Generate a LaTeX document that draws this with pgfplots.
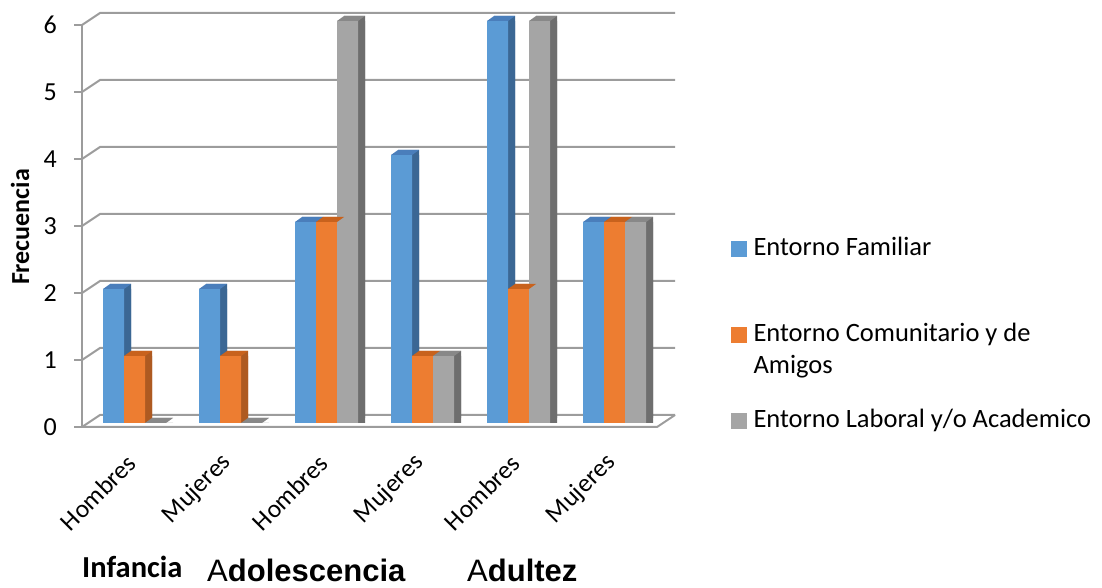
\documentclass[border=0pt]{standalone}
\usepackage{fontspec}
\setmainfont{Carlito}
\newfontfamily\arialf{Liberation Sans}
\usepackage{pgfplots}
\usepackage{pgfplotstable}
\pgfplotsset{compat=1.18}
\definecolor{bF}{HTML}{5B9BD5}
\definecolor{bT}{HTML}{4A7EBB}
\definecolor{bS}{HTML}{3B6794}
\definecolor{oF}{HTML}{ED7D31}
\definecolor{oT}{HTML}{C8621D}
\definecolor{oS}{HTML}{AE5A21}
\definecolor{gF}{HTML}{A5A5A5}
\definecolor{gT}{HTML}{888888}
\definecolor{gS}{HTML}{6E6E6E}
\definecolor{gridc}{HTML}{9C9C9C}
\pgfdeclareplotmark{topface}{%
 \pgfpathmoveto{\pgfpoint{-10.5pt}{0pt}}%
 \pgfpathlineto{\pgfpoint{10.5pt}{0pt}}%
 \pgfpathlineto{\pgfpoint{17.5pt}{5pt}}%
 \pgfpathlineto{\pgfpoint{-3.5pt}{5pt}}%
 \pgfpathclose\pgfusepath{fill}}
\pgfplotstableread{
x fam com lab
0 2 1 0
1 2 1 0
2 3 3 6
3 4 1 1
4 6 2 6
5 3 3 3
}\datatab
\begin{document}
\begin{tikzpicture}
\begin{axis}[
  set layers,
  at={(88pt,165pt)}, anchor=south west,
  scale only axis, width=575pt, height=402pt,
  xmin=-0.4844, xmax=5.5052, ymin=0, ymax=6,
  clip=false,
  axis line style={draw=none},
  major tick length=0pt,
  xtick={0,1,2,3,4,5},
  xticklabels={Hombres,Mujeres,Hombres,Mujeres,Hombres,Mujeres},
  xticklabel style={font=\fontsize{25.5}{25.5}\selectfont, inner sep=0pt, xshift=-3pt, rotate=45, anchor=east},
  xticklabel shift=36pt,
  ytick={0,1,2,3,4,5,6},
  yticklabel style={font=\fontsize{26}{26}\selectfont, inner sep=0pt, anchor=east, xshift=-31pt, yshift=-4pt},
  /pgf/number format/assume math mode=true,
  legend style={draw=none, fill=none, inner sep=0pt, outer sep=0pt,
    at={(axis description cs:1.1183,0.4527)}, anchor=north west,
    row sep=70pt, column sep=7pt, font=\fontsize{26.5}{32}\selectfont,
    nodes={inner sep=0pt, outer sep=0pt}},
  legend cell align=left,
]
\begin{pgfonlayer}{axis background}
\pgfplotsinvokeforeach{0,1,2,3,4,5,6}{
  \draw[gridc, line width=2pt] ([shift={(-6pt,-4pt)}]axis cs:-0.4844,#1) -- ([shift={(12pt,8pt)}]axis cs:-0.4844,#1) -- ([shift={(12pt,8pt)}]axis cs:5.5052,#1);
  \draw[gridc, line width=2pt] ([shift={(-6pt,-4pt)}]axis cs:-0.4844,#1) -- ++(-8pt,0pt);
}
\draw[gridc, line width=2pt] ([shift={(-6pt,-4pt)}]axis cs:-0.4844,0) -- ([shift={(-6pt,-4pt)}]axis cs:-0.4844,6);
\draw[gridc, line width=2pt] ([shift={(-6pt,-4pt)}]axis cs:-0.4844,0) -- ([shift={(-6pt,-4pt)}]axis cs:5.5052,0) -- ([shift={(12pt,8pt)}]axis cs:5.5052,0);
\end{pgfonlayer}
% side faces (shadow bars)
\addplot[ybar, bar width=21pt, bar shift=-14pt, fill=bS, draw=none, yshift=5pt, forget plot] table[x=x,y=fam]{\datatab};
\addplot[ybar, bar width=21pt, bar shift=-14pt, fill=bS, draw=none, forget plot] table[x=x,y=fam]{\datatab};
\addplot[ybar, bar width=21pt, bar shift=7pt, fill=oS, draw=none, yshift=5pt, forget plot] table[x=x,y=com]{\datatab};
\addplot[ybar, bar width=21pt, bar shift=7pt, fill=oS, draw=none, forget plot] table[x=x,y=com]{\datatab};
\addplot[ybar, bar width=21pt, bar shift=28pt, fill=gS, draw=none, yshift=5pt, forget plot] table[x=x,y=lab]{\datatab};
\addplot[ybar, bar width=21pt, bar shift=28pt, fill=gS, draw=none, forget plot] table[x=x,y=lab]{\datatab};
% top faces
\addplot[only marks, mark=topface, mark options={fill=bT, draw=none}, xshift=-21pt, forget plot] table[x=x,y=fam]{\datatab};
\addplot[only marks, mark=topface, mark options={fill=oT, draw=none}, forget plot] table[x=x,y=com]{\datatab};
\addplot[only marks, mark=topface, mark options={fill=gT, draw=none}, xshift=21pt, forget plot] table[x=x,y=lab]{\datatab};
% front faces
\addplot[ybar, bar width=21pt, bar shift=-21pt, fill=bF, draw=none, forget plot] table[x=x,y=fam]{\datatab};
\addplot[ybar, bar width=21pt, bar shift=0pt, fill=oF, draw=none, forget plot] table[x=x,y=com]{\datatab};
\addplot[ybar, bar width=21pt, bar shift=21pt, fill=gF, draw=none, forget plot] table[x=x,y=lab]{\datatab};
% legend
\addlegendimage{legend image code/.code={\fill[bF] (0pt,0pt) rectangle (15pt,15pt);}}
\addlegendentry{\smash{Entorno Familiar}}
\addlegendimage{legend image code/.code={\fill[oF] (0pt,0pt) rectangle (15pt,15pt);}}
\addlegendentry{\smash{\begin{tabular}[t]{@{}l@{}}Entorno Comunitario y de\\Amigos\end{tabular}}}
\addlegendimage{legend image code/.code={\fill[gF] (0pt,0pt) rectangle (15pt,15pt);}}
\addlegendentry{\smash{Entorno Laboral y/o Academico}}
\end{axis}
\node[rotate=90, inner sep=0pt, font=\fontsize{26}{26}\selectfont\bfseries] at (20pt,361pt) {Frecuencia};
\node[anchor=base west, inner sep=0pt, font=\fontsize{30.5}{30.5}\selectfont\bfseries] at (82pt,10pt) {Infancia};
\node[anchor=base west, inner sep=0pt, font=\fontsize{31}{31}\selectfont\arialf] at (207pt,6pt) {A\textbf{dolescencia}};
\node[anchor=base west, inner sep=0pt, font=\fontsize{31}{31}\selectfont\arialf] at (467pt,6pt) {A\textbf{dultez}};
\pgfresetboundingbox
\useasboundingbox (0,0) rectangle (1102pt,588pt);
\end{tikzpicture}
\end{document}
